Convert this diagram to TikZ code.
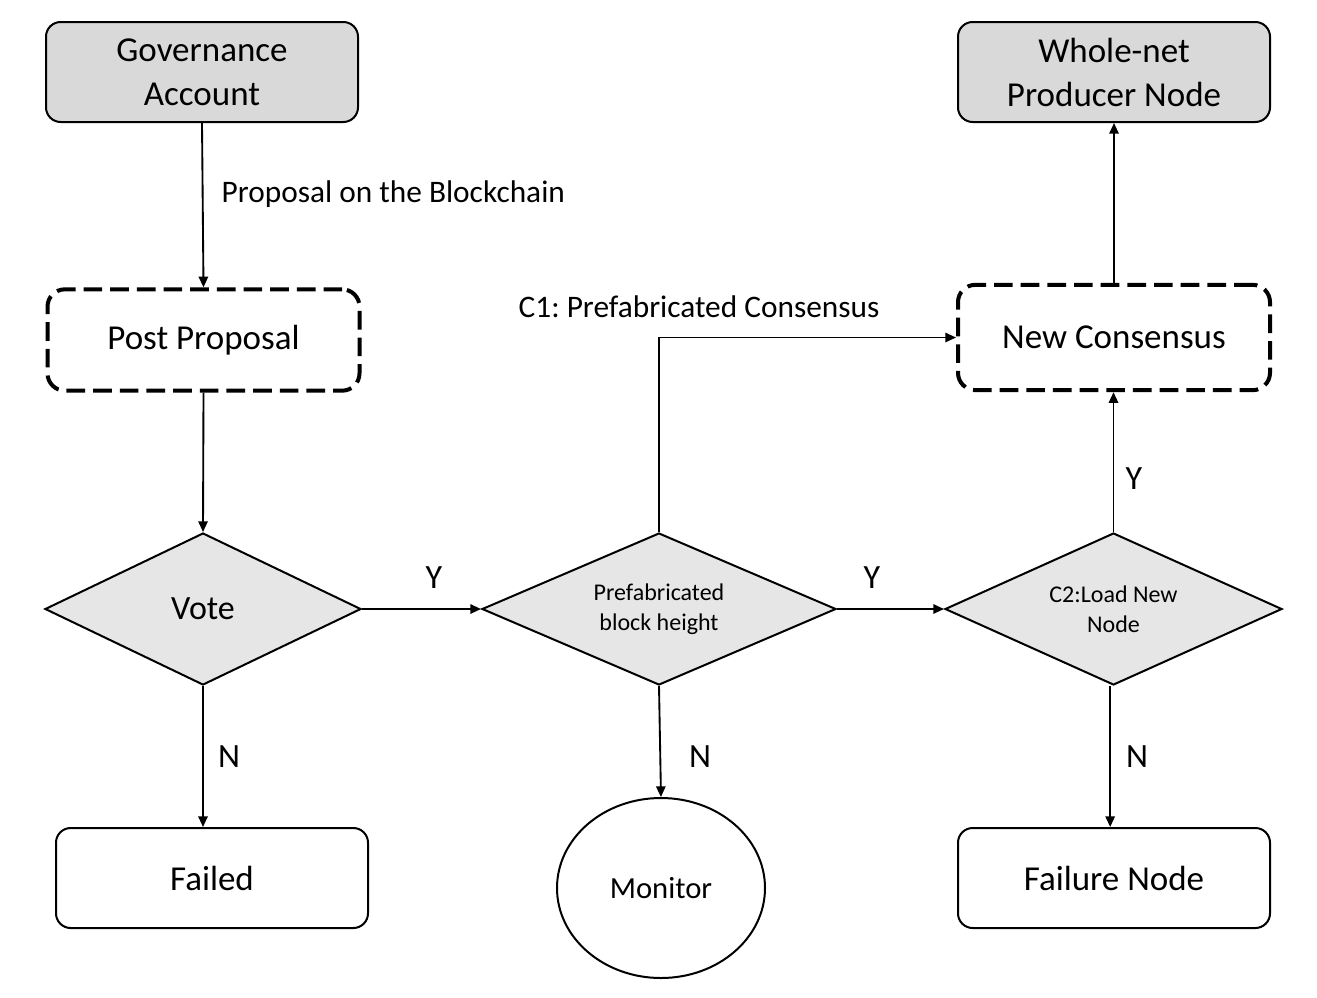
\documentclass[tikz,border=0pt]{standalone}
\usepackage{fontspec}
\setmainfont{Carlito}
\frenchspacing
\usetikzlibrary{shapes.geometric,arrows.meta}
\definecolor{boxgray}{HTML}{D9D9D9}
\definecolor{diagray}{HTML}{E6E6E6}
\tikzset{
  px/.style={x=0.75pt,y=-0.75pt},
  mainfont/.style={font=\fontsize{26.25pt}{33pt}\selectfont},
  labfont/.style={font=\fontsize{23.5pt}{28pt}\selectfont},
  ynfont/.style={font=\fontsize{25.5pt}{30pt}\selectfont},
  smallfont/.style={font=\fontsize{18pt}{22.5pt}\selectfont},
  graybox/.style={draw, line width=1.5pt, rounded corners=11pt, fill=boxgray,
    minimum width=234pt, minimum height=75pt, align=center, inner sep=0pt, mainfont},
  whitebox/.style={draw, line width=1.5pt, rounded corners=11pt, fill=white,
    minimum width=234pt, minimum height=75pt, align=center, inner sep=0pt, mainfont},
  dashbox/.style={draw, line width=3pt, dash pattern=on 14pt off 6pt, rounded corners=13pt,
    minimum width=234pt, minimum height=76pt, align=center, inner sep=0pt, mainfont},
  decide/.style={draw, line width=1.5pt, diamond, fill=diagray, inner sep=0pt, align=center, aspect=2.3},
  conn/.style={line width=1.4pt, -{Triangle[length=8pt,width=7pt]}},
}
\begin{document}
\begin{tikzpicture}[px]
\useasboundingbox (0,0) rectangle (1317,997);
% boxes
\node[graybox] (gov) at (202,72) {Governance\\Account};
\node[graybox] (whole) at (1114,72) {Whole-net\\Producer Node};
\node[dashbox] (post) at (203.5,340) {Post Proposal};
\node[dashbox, minimum height=79pt] (nc) at (1114,337.5) {New Consensus};
\node[decide, minimum width=237pt, minimum height=114pt, font=\fontsize{25.5pt}{30pt}\selectfont] (vote) at (203,609) {Vote};
\node[decide, minimum width=265.5pt, minimum height=114pt, smallfont] (pre) at (659,609) {Prefabricated\\block height};
\node[decide, minimum width=252.75pt, minimum height=114pt, smallfont] (c2) at (1113.5,609) {C2:Load New\\Node};
\node[whitebox] (failed) at (212,878) {Failed};
\node[draw, line width=1.5pt, ellipse, minimum width=156pt, minimum height=135pt, inner sep=0pt,
  font=\fontsize{23pt}{28pt}\selectfont] (mon) at (661,888) {Monitor};
\node[whitebox] (fnode) at (1114,878) {Failure Node};
% connectors
\draw[conn] (gov.south) -- (post.north);
\node[labfont, anchor=west] (lprop) at (217,194) {Proposal on the Blockchain};
\draw[conn] (post.south) -- (vote.north);
\draw[conn] (vote.east) -- (pre.west);
\node[ynfont] (ly1) at (434,578) {Y};
\draw[conn] (pre.east) -- (c2.west);
\node[ynfont] (ly2) at (872,578) {Y};
\draw[conn] (vote.south) -- (failed.north -| vote.south);
\node[ynfont] (ln1) at (229,757) {N};
\draw[conn] (pre.south) -- (mon.north);
\node[ynfont] (ln2) at (700,757) {N};
\draw[conn] ([xshift=-2.5pt]c2.south) -- ([xshift=-2.5pt]c2.south |- fnode.north);
\node[ynfont] (ln3) at (1137,757) {N};
\draw[conn] (c2.north) -- (nc.south -| c2.north);
\node[ynfont] (ly3) at (1134,479) {Y};
\draw[conn] (pre.north) |- (nc.west);
\node[labfont] (lc1) at (699,307) {C1: Prefabricated Consensus};
\draw[conn] (nc.north) -- (whole.south);
\end{tikzpicture}
\end{document}
